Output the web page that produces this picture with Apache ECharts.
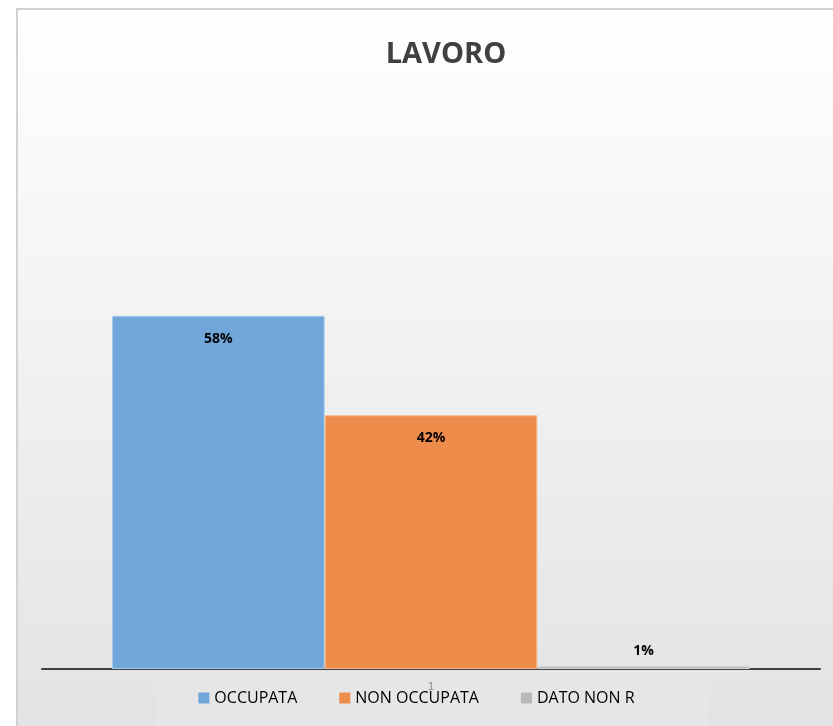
<!DOCTYPE html>
<html>
<head>
<meta charset="utf-8">
<script src="https://cdn.jsdelivr.net/npm/echarts@6/dist/echarts.min.js"></script>
<style>
  html, body { margin: 0; padding: 0; background: #fff; }
  #chart { width: 833px; height: 726px; }
</style>
</head>
<body>
<div id="chart"></div>
<script>
// dati del grafico
const categories = ['1']
const seriesNames = ['OCCUPATA', 'NON OCCUPATA', 'DATO NON R']
const occupata = [57.9]
const nonOccupata = [41.6]
const datoNonR = [0.5]
const colors = ['#70a6d9', '#ee8c4c', '#b8b8b8']
const borders = ['#a9cbeb', '#f6b98f', '#d4d4d4']

const chart = echarts.init(document.getElementById('chart'))

function makeSeries (name, data, idx, labelPos) {
  return {
    name: name,
    type: 'bar',
    data: data,
    barGap: '0%',
    barCategoryGap: '18%',
    itemStyle: { color: colors[idx], borderColor: borders[idx], borderWidth: 1 },
    label: {
      show: true,
      position: labelPos,
      distance: labelPos === 'top' ? 8 : 16,
      formatter: p => Math.round(p.value) + '%',
      color: '#000',
      fontWeight: 'bold',
      fontSize: 14,
      fontFamily: 'Open Sans'
    }
  }
}

chart.setOption({
  animation: false,
  graphic: [
    {
      type: 'rect',
      z: -10,
      shape: { x: 17, y: 9, width: 840, height: 740 },
      style: {
        fill: new echarts.graphic.LinearGradient(0, 0, 0, 1, [
          { offset: 0, color: '#ffffff' },
          { offset: 1, color: '#e2e2e2' }
        ]),
        stroke: '#d2d2d2',
        lineWidth: 2
      }
    },
    {
      type: 'rect',
      z: -5,
      shape: { x: 157, y: 673, width: 551, height: 53 },
      style: { fill: '#e6e6e6' }
    }
  ],
  title: {
    text: 'LAVORO',
    left: 441,
    top: 35,
    textAlign: 'center',
    textStyle: { fontSize: 29, fontWeight: 'bold', color: '#404040', fontFamily: 'Open Sans' }
  },
  legend: {
    data: seriesNames,
    bottom: 15,
    left: 'center',
    itemWidth: 11,
    itemHeight: 11,
    itemGap: 42,
    icon: 'rect',
    itemStyle: { borderWidth: 0 },
    textStyle: { fontSize: 16, color: '#000', fontFamily: 'Open Sans' }
  },
  grid: { left: 42, right: 13, top: 59, bottom: 57 },
  xAxis: {
    type: 'category',
    data: categories,
    axisLine: { lineStyle: { color: '#404040', width: 2 } },
    axisTick: { show: false },
    axisLabel: { margin: 12, fontSize: 11, color: '#888' }
  },
  yAxis: {
    type: 'value',
    min: 0,
    max: 100,
    show: false,
    splitLine: { show: false }
  },
  series: [
    makeSeries(seriesNames[0], occupata, 0, 'insideTop'),
    makeSeries(seriesNames[1], nonOccupata, 1, 'insideTop'),
    makeSeries(seriesNames[2], datoNonR, 2, 'top')
  ]
})
</script>
</body>
</html>
